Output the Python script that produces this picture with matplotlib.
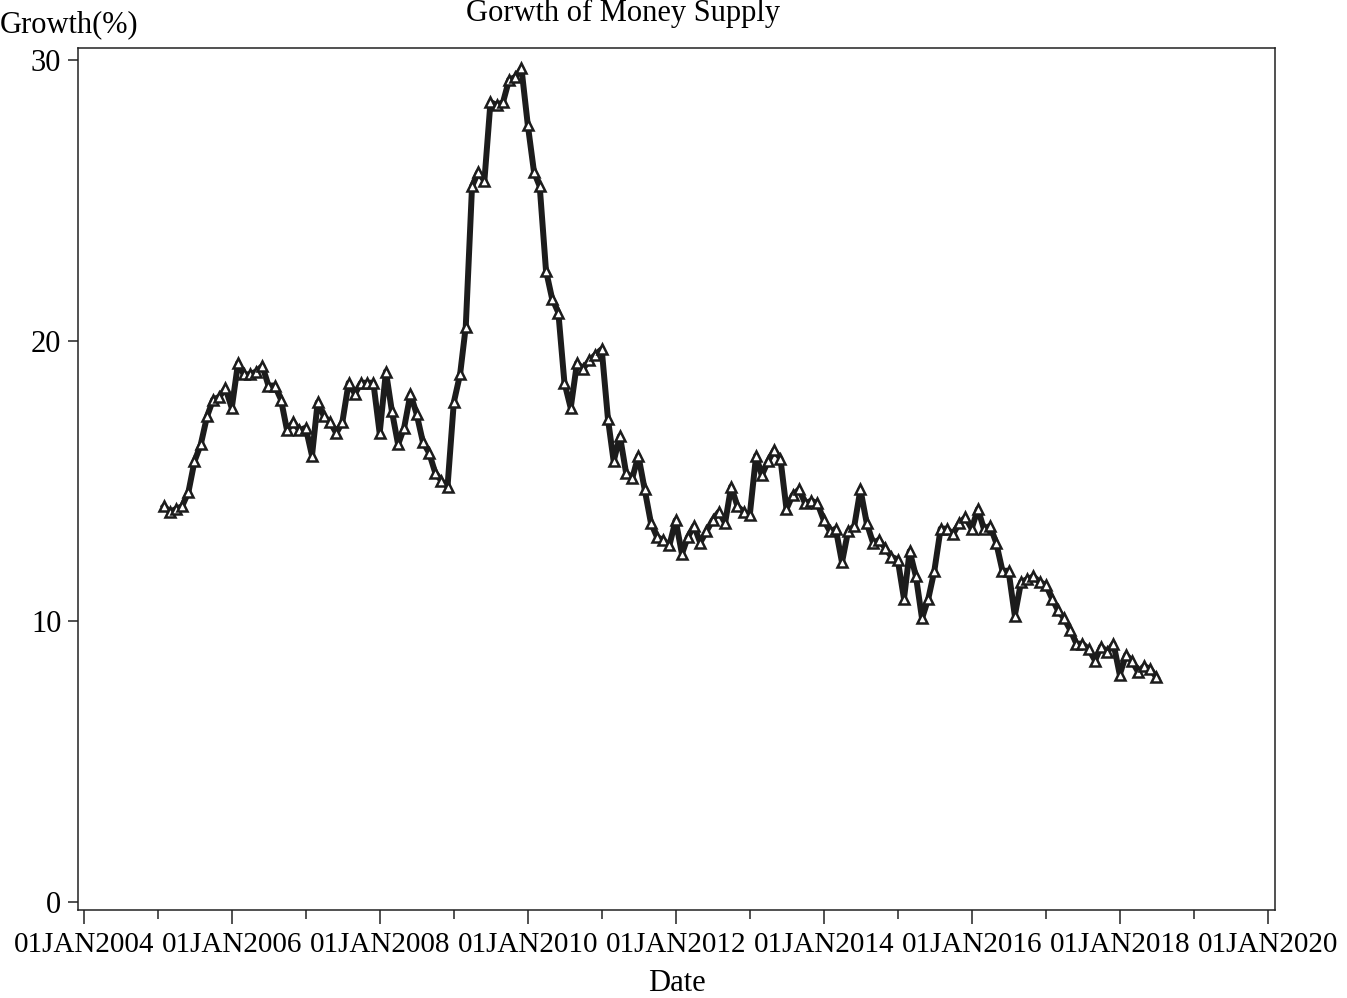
import pandas as pd
import matplotlib
matplotlib.use("Agg")
import matplotlib.pyplot as plt

plt.rcParams['font.family'] = ['Liberation Serif', 'DejaVu Serif']

# monthly money supply growth (%), Jan 2005 - Jun 2018
g2005 = [14.1, 13.9, 14.0, 14.1, 14.6, 15.7, 16.3, 17.3, 17.9, 18.0, 18.3, 17.6]
g2006 = [19.2, 18.8, 18.8, 18.9, 19.1, 18.4, 18.4, 17.9, 16.8, 17.1, 16.8, 16.9]
g2007 = [15.9, 17.8, 17.3, 17.1, 16.7, 17.1, 18.5, 18.1, 18.5, 18.5, 18.5, 16.7]
g2008 = [18.9, 17.5, 16.3, 16.9, 18.1, 17.4, 16.4, 16.0, 15.3, 15.0, 14.8, 17.8]
g2009 = [18.8, 20.5, 25.5, 26.0, 25.7, 28.5, 28.4, 28.5, 29.3, 29.4, 29.7, 27.7]
g2010 = [26.0, 25.5, 22.5, 21.5, 21.0, 18.5, 17.6, 19.2, 19.0, 19.3, 19.5, 19.7]
g2011 = [17.2, 15.7, 16.6, 15.3, 15.1, 15.9, 14.7, 13.5, 13.0, 12.9, 12.7, 13.6]
g2012 = [12.4, 13.0, 13.4, 12.8, 13.2, 13.6, 13.9, 13.5, 14.8, 14.1, 13.9, 13.8]
g2013 = [15.9, 15.2, 15.7, 16.1, 15.8, 14.0, 14.5, 14.7, 14.2, 14.3, 14.2, 13.6]
g2014 = [13.2, 13.3, 12.1, 13.2, 13.4, 14.7, 13.5, 12.8, 12.9, 12.6, 12.3, 12.2]
g2015 = [10.8, 12.5, 11.6, 10.1, 10.8, 11.8, 13.3, 13.3, 13.1, 13.5, 13.7, 13.3]
g2016 = [14.0, 13.3, 13.4, 12.8, 11.8, 11.8, 10.2, 11.4, 11.5, 11.6, 11.4, 11.3]
g2017 = [10.8, 10.4, 10.1, 9.7, 9.2, 9.2, 9.0, 8.6, 9.1, 8.9, 9.2, 8.1]
g2018 = [8.8, 8.6, 8.2, 8.4, 8.3, 8.0]

growth = (g2005 + g2006 + g2007 + g2008 + g2009 + g2010 + g2011 + g2012
          + g2013 + g2014 + g2015 + g2016 + g2017 + g2018)
dates = pd.date_range('2005-01-31', periods=len(growth), freq='ME')

tick_years = list(range(2004, 2021, 2))
minor_years = list(range(2005, 2021, 2))
y_ticks = [0, 10, 20, 30]

fig = plt.figure(figsize=(13.47, 9.98), dpi=100)
ax = fig.add_axes([0.0579, 0.0882, 0.8886, 0.8637])

ax.plot(dates, growth, color='#1c1c1c', lw=4.3, marker='^', ms=7.5,
        mfc='white', mec='#1c1c1c', mew=1.8)

ax.set_xlim(pd.Timestamp('2003-12-03'), pd.Timestamp('2020-02-05'))
ax.set_ylim(-0.29, 30.43)

major = [pd.Timestamp(f'{y}-01-01') for y in tick_years]
ax.set_xticks(major)
ax.set_xticklabels([d.strftime('01JAN%Y') for d in major], fontsize=21)
ax.set_xticks([pd.Timestamp(f'{y}-01-01') for y in minor_years], minor=True)
ax.set_yticks(y_ticks)
ax.set_yticklabels([str(v) for v in y_ticks], fontsize=22)

ax.tick_params(axis='x', which='major', length=10, width=1.1, pad=6, color='#222')
ax.tick_params(axis='x', which='minor', length=6.5, width=1.1, color='#222')
ax.tick_params(axis='y', length=7, width=1.1, pad=5, color='#222')
for s in ax.spines.values():
    s.set_linewidth(1.1)
    s.set_color('#222')

ax.set_xlabel('Date', fontsize=22, labelpad=8)
fig.text(623 / 1347, 1 - 13 / 998, 'Gorwth of Money Supply', fontsize=22,
         ha='center', va='center')
fig.text(0, 1 - 25 / 998, 'Growth(%)', fontsize=22, ha='left', va='center')

fig.savefig('out.png', dpi=100)
plt.close()
